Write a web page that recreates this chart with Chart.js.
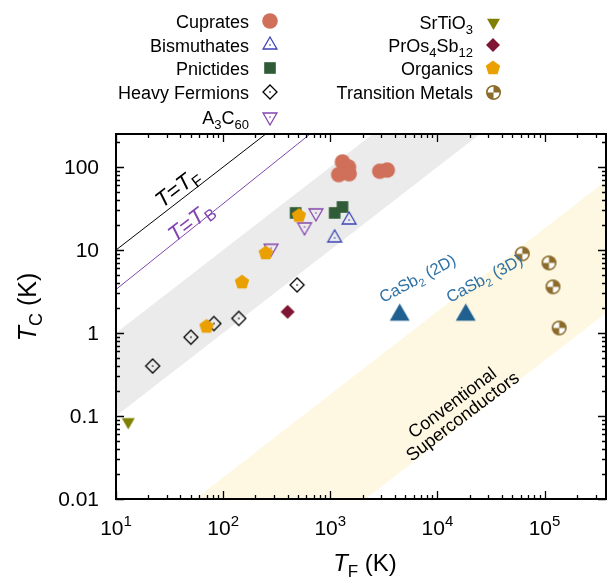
<!DOCTYPE html>
<html>
<head>
<meta charset="utf-8">
<script src="https://cdn.jsdelivr.net/npm/chart.js@4.4.1/dist/chart.umd.min.js"></script>
<style>
  html, body { margin: 0; padding: 0; background: #fff; }
  #wrap { width: 613px; height: 581px; }
</style>
</head>
<body>
<div id="wrap"><canvas id="uemura" width="613" height="581"></canvas></div>
<script>
// Fermi temperature T_F (K) against critical temperature T_c (K), per family
const cupratesTF = [1300, 1480, 1200, 1500, 2900, 3400];
const cupratesTc = [115, 100, 81, 83, 89, 92];
const bismuthatesTF = [1500, 1100];
const bismuthatesTc = [23, 14];
const pnictidesTF = [475, 1100, 1300];
const pnictidesTc = [28, 28, 33];
const heavyFermionsTF = [22, 50, 82, 140, 490];
const heavyFermionsTc = [0.4, 0.89, 1.3, 1.5, 3.8];
const fulleridesTF = [280, 735, 575];
const fulleridesTc = [10.5, 28, 19];
const srtio3TF = [13];
const srtio3Tc = [0.085];
const prosTF = [400];
const prosTc = [1.8];
const organicsTF = [150, 70, 250, 510];
const organicsTc = [4.1, 1.2, 9.2, 26];
const transitionTF = [62000, 110000, 120000, 137000];
const transitionTc = [9, 7, 3.6, 1.15];
const casb2TF = [4450, 18400];
const casb2Tc = [1.65, 1.65];
const casb2Labels = ['2D', '3D'];

// guide lines and shaded regions (edges are straight in log-log)
const fermiLineTF = [10, 1000];
const fermiLineTc = [10, 1000];
const boseLineTF = [10, 1000];
const boseLineTc = [3.35, 391];
const unconvTF = [10, 100000];
const unconvUpper = [1, 10000];
const unconvLower = [0.1, 1000];
const convTF = [40, 400000];
const convUpper = [0.0073, 73];
const convLower = [0.00019, 1.86];

const yTickVals = [0.01, 0.1, 1, 10, 100];
const yTickText = ['0.01', '0.1', '1', '10', '100'];
const xTickExp = [1, 2, 3, 4, 5];

const FONT = '"Liberation Sans", Arial, Helvetica, sans-serif';

function pts(xs, ys) { return xs.map((x, i) => ({ x: x, y: ys[i] })); }

// small canvases used as point styles
function marker(kind, color, r) {
  const c = document.createElement('canvas');
  const n = Math.ceil(2 * r + 4);
  c.width = c.height = n;
  const g = c.getContext('2d');
  g.translate(n / 2, n / 2);
  g.lineWidth = 1.3;
  g.strokeStyle = color;
  g.fillStyle = color;
  const poly = (k, rot) => {
    g.beginPath();
    for (let i = 0; i < k; i++) {
      const a = rot + i * 2 * Math.PI / k;
      g.lineTo(r * Math.cos(a), r * Math.sin(a));
    }
    g.closePath();
  };
  const dot = () => { g.fillRect(-0.7, -0.7, 1.4, 1.4); };
  switch (kind) {
    case 'circle': g.beginPath(); g.arc(0, 0, r, 0, 2 * Math.PI); g.fill(); break;
    case 'square': g.fillRect(-r, -r, 2 * r, 2 * r); break;
    case 'tri': poly(3, -Math.PI / 2); g.fill(); break;
    case 'triOpen': poly(3, -Math.PI / 2); g.stroke(); dot(); break;
    case 'triDown': poly(3, Math.PI / 2); g.fill(); break;
    case 'triDownOpen': poly(3, Math.PI / 2); g.stroke(); dot(); break;
    case 'diamond': poly(4, -Math.PI / 2); g.fill(); break;
    case 'diamondOpen': poly(4, -Math.PI / 2); g.stroke(); dot(); break;
    case 'pent': poly(5, -Math.PI / 2); g.fill(); break;
    case 'quarter':
      g.beginPath(); g.arc(0, 0, r, 0, 2 * Math.PI); g.fill();
      g.fillStyle = '#fff';
      g.beginPath(); g.moveTo(0, 0); g.arc(0, 0, r - 1, Math.PI, 1.5 * Math.PI); g.closePath(); g.fill();
      g.beginPath(); g.moveTo(0, 0); g.arc(0, 0, r - 1, 0, 0.5 * Math.PI); g.closePath(); g.fill();
      g.beginPath(); g.arc(0, 0, r - 0.6, 0, 2 * Math.PI); g.stroke();
      break;
  }
  return c;
}

const mk = {
  cuprates: marker('circle', '#d0705a', 7.8),
  bismuthates: marker('triOpen', '#3b44b5', 8),
  pnictides: marker('square', '#2f5c36', 5.8),
  heavy: marker('diamondOpen', '#000000', 7),
  fullerides: marker('triDownOpen', '#8446ad', 8),
  srtio3: marker('triDown', '#7f7f00', 7.5),
  pros: marker('diamond', '#7e1533', 7),
  organics: marker('pent', '#eaa000', 7.6),
  transition: marker('quarter', '#8c6c2c', 7.3),
  casb2: marker('tri', '#1f6090', 11.5)
};

function band(xs, ys, fill, color, order) {
  return { type: 'line', data: pts(xs, ys), borderWidth: 0, pointRadius: 0,
           fill: fill, backgroundColor: color, order: order };
}
function guide(xs, ys, color) {
  return { type: 'line', data: pts(xs, ys), borderColor: color, borderWidth: 1,
           pointRadius: 0, fill: false, order: 10 };
}
function family(xs, ys, style, order) {
  return { type: 'scatter', data: pts(xs, ys), pointStyle: style, pointRadius: 6, order: order };
}

// rich text: runs of {t, size, italic, dy}
function runsWidth(ctx, parts) {
  let w = 0;
  for (const p of parts) { ctx.font = (p.italic ? 'italic ' : '') + p.size + 'px ' + FONT; w += ctx.measureText(p.t).width; }
  return w;
}
function drawRuns(ctx, parts, x, y, align) {
  const w = runsWidth(ctx, parts);
  let cx = align === 'right' ? x - w : align === 'center' ? x - w / 2 : x;
  ctx.textAlign = 'left';
  ctx.textBaseline = 'alphabetic';
  for (const p of parts) {
    ctx.font = (p.italic ? 'italic ' : '') + p.size + 'px ' + FONT;
    ctx.fillText(p.t, cx, y + (p.dy || 0));
    cx += ctx.measureText(p.t).width;
  }
}
function rotated(ctx, x, y, deg, fn) {
  ctx.save(); ctx.translate(x, y); ctx.rotate(deg * Math.PI / 180); fn(); ctx.restore();
}

function logTicks(min, max) {
  const out = [];
  for (let e = Math.floor(Math.log10(min)); e <= Math.ceil(Math.log10(max)); e++) {
    for (let k = 1; k < 10; k++) {
      const v = k * Math.pow(10, e);
      if (v >= min * 0.999 && v <= max * 1.001) out.push({ v: v, major: k === 1 });
    }
  }
  return out;
}

const legendLeft = [
  { parts: [{ t: 'Cuprates' }], m: mk.cuprates, y: 21 },
  { parts: [{ t: 'Bismuthates' }], m: mk.bismuthates, y: 45 },
  { parts: [{ t: 'Pnictides' }], m: mk.pnictides, y: 68 },
  { parts: [{ t: 'Heavy Fermions' }], m: mk.heavy, y: 92 },
  { parts: [{ t: 'A' }, { t: '3', sub: true }, { t: 'C' }, { t: '60', sub: true }], m: mk.fullerides, y: 117 }
];
const legendRight = [
  { parts: [{ t: 'SrTiO' }, { t: '3', sub: true }], m: mk.srtio3, y: 22 },
  { parts: [{ t: 'PrOs' }, { t: '4', sub: true }, { t: 'Sb' }, { t: '12', sub: true }], m: mk.pros, y: 45 },
  { parts: [{ t: 'Organics' }], m: mk.organics, y: 68 },
  { parts: [{ t: 'Transition Metals' }], m: mk.transition, y: 92 }
];

const decorations = {
  id: 'decorations',
  afterDraw(chart) {
    const ctx = chart.ctx;
    const a = chart.chartArea;
    const xs = chart.scales.x, ys = chart.scales.y;
    ctx.save();
    ctx.fillStyle = '#000';
    ctx.strokeStyle = '#000';

    // inward ticks on all four sides
    ctx.lineWidth = 1.3;
    ctx.beginPath();
    for (const t of logTicks(xs.min, xs.max)) {
      const px = Math.round(xs.getPixelForValue(t.v)) + 0.5;
      const len = t.major ? 8 : 4;
      ctx.moveTo(px, a.bottom); ctx.lineTo(px, a.bottom - len);
      ctx.moveTo(px, a.top); ctx.lineTo(px, a.top + len);
    }
    for (const t of logTicks(ys.min, ys.max)) {
      const py = Math.round(ys.getPixelForValue(t.v)) + 0.5;
      const len = t.major ? 8 : 4;
      ctx.moveTo(a.left, py); ctx.lineTo(a.left + len, py);
      ctx.moveTo(a.right, py); ctx.lineTo(a.right - len, py);
    }
    ctx.stroke();
    ctx.lineWidth = 2;
    ctx.strokeRect(a.left, a.top, a.right - a.left, a.bottom - a.top);

    // tick labels
    ctx.font = '21px ' + FONT;
    ctx.textAlign = 'right';
    ctx.textBaseline = 'middle';
    yTickVals.forEach((v, i) => ctx.fillText(yTickText[i], 99, ys.getPixelForValue(v) + 1));
    xTickExp.forEach(e => {
      drawRuns(ctx, [{ t: '10', size: 21 }, { t: String(e), size: 15, dy: -9 }],
               xs.getPixelForValue(Math.pow(10, e)), 535, 'center');
    });

    // axis titles
    drawRuns(ctx, [{ t: 'T', size: 24, italic: true }, { t: 'F', size: 17, dy: 6 }, { t: ' (K)', size: 24 }],
             365, 571, 'center');
    rotated(ctx, 36, 307, -90, () => {
      drawRuns(ctx, [{ t: 'T', size: 25, italic: true }, { t: 'C', size: 18, dy: 6 }, { t: ' (K)', size: 25 }],
               0, 0, 'center');
    });

    // labels inside the plot
    rotated(ctx, 177, 187, -37.5, () => {
      ctx.fillStyle = '#000';
      drawRuns(ctx, [{ t: 'T', size: 22, italic: true }, { t: '=', size: 22 }, { t: 'T', size: 22, italic: true },
                     { t: 'F', size: 16, dy: 5 }], 0, 8, 'center');
    });
    rotated(ctx, 190, 221, -37.5, () => {
      ctx.fillStyle = '#8446ad';
      drawRuns(ctx, [{ t: 'T', size: 22, italic: true }, { t: '=', size: 22 }, { t: 'T', size: 22, italic: true },
                     { t: 'B', size: 16, dy: 5 }], 0, 8, 'center');
    });
    rotated(ctx, 457, 409, -37, () => {
      ctx.fillStyle = '#000';
      drawRuns(ctx, [{ t: 'Conventional', size: 18 }], 0, -2, 'center');
      drawRuns(ctx, [{ t: 'Superconductors', size: 18 }], 0, 15, 'center');
    });
    ctx.fillStyle = '#2f72a6';
    const casbStart = [[383, 303], [450, 303]];
    casb2Labels.forEach((lab, i) => {
      rotated(ctx, casbStart[i][0], casbStart[i][1], -28, () => {
        drawRuns(ctx, [{ t: 'CaSb', size: 16.5 }, { t: '2', size: 11, dy: 4 }, { t: ' (' + lab + ')', size: 16.5 }], 0, 0, 'left');
      });
    });

    // key: text right-justified, sample to the right
    ctx.fillStyle = '#000';
    const drawKey = (rows, textRight, markX) => {
      rows.forEach(r => {
        const parts = r.parts.map(p => p.sub ? { t: p.t, size: 13, dy: 5 } : { t: p.t, size: 18 });
        drawRuns(ctx, parts, textRight, r.y + 6.5, 'right');
        ctx.drawImage(r.m, Math.round(markX - r.m.width / 2), Math.round(r.y - r.m.height / 2));
      });
    };
    drawKey(legendLeft, 249, 270);
    drawKey(legendRight, 473, 493);
    ctx.restore();
  }
};

new Chart(document.getElementById('uemura'), {
  type: 'scatter',
  data: {
    datasets: [
      band(unconvTF, unconvUpper, '+1', '#ebebeb', 30),
      band(unconvTF, unconvLower, false, 'transparent', 31),
      band(convTF, convUpper, '+1', '#fef8e3', 20),
      band(convTF, convLower, false, 'transparent', 21),
      guide(fermiLineTF, fermiLineTc, '#000000'),
      guide(boseLineTF, boseLineTc, '#8446ad'),
      family(cupratesTF, cupratesTc, mk.cuprates, 5),
      family(bismuthatesTF, bismuthatesTc, mk.bismuthates, 4),
      family(pnictidesTF, pnictidesTc, mk.pnictides, 4),
      family(heavyFermionsTF, heavyFermionsTc, mk.heavy, 3),
      family(fulleridesTF, fulleridesTc, mk.fullerides, 3),
      family(srtio3TF, srtio3Tc, mk.srtio3, 2),
      family(prosTF, prosTc, mk.pros, 2),
      family(organicsTF, organicsTc, mk.organics, 1),
      family(transitionTF, transitionTc, mk.transition, 1),
      family(casb2TF, casb2Tc, mk.casb2, 1)
    ]
  },
  options: {
    responsive: false,
    animation: false,
    events: [],
    layout: { padding: { left: 116, right: 3, top: 134, bottom: 82 } },
    plugins: { legend: { display: false }, tooltip: { enabled: false } },
    scales: {
      x: {
        type: 'logarithmic', min: 10, max: 3.75e5,
        grid: { display: false }, border: { display: false }, ticks: { display: false },
        afterFit: s => { s.height = 0; }
      },
      y: {
        type: 'logarithmic', min: 0.01, max: 250,
        grid: { display: false }, border: { display: false }, ticks: { display: false },
        afterFit: s => { s.width = 0; }
      }
    }
  },
  plugins: [decorations]
});
</script>
</body>
</html>
